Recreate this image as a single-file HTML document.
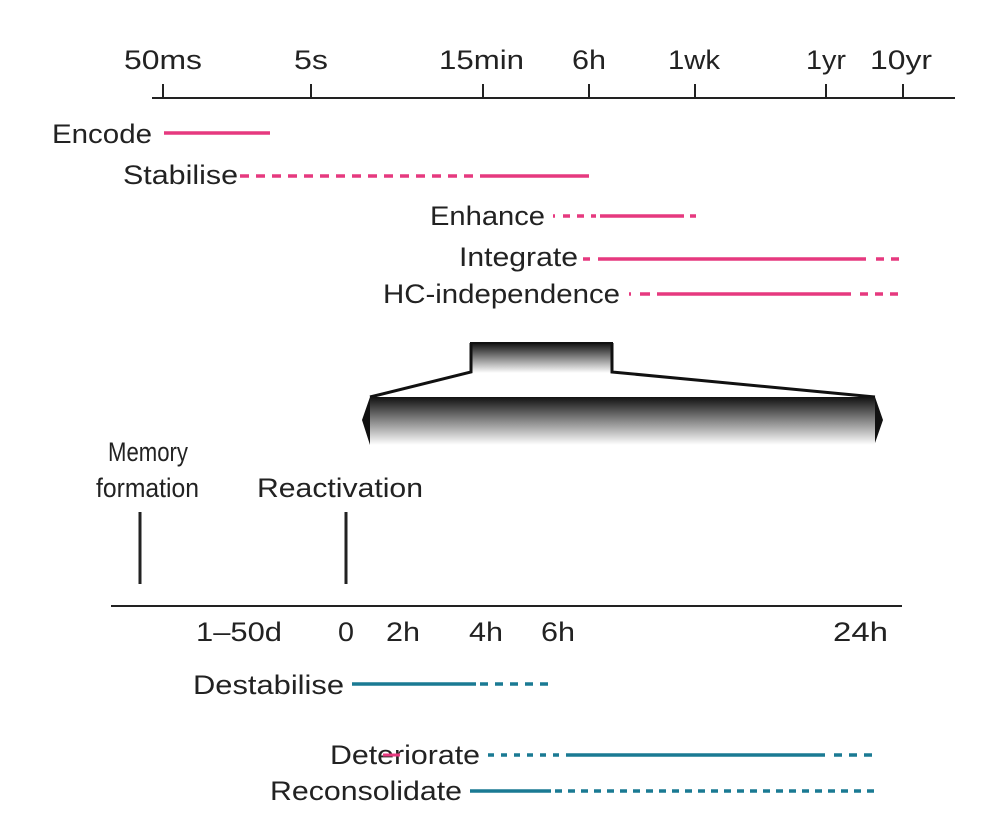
<!DOCTYPE html>
<html><head><meta charset="utf-8"><style>html,body{margin:0;padding:0;background:#fff}svg{display:block}text{font-family:"Liberation Sans",sans-serif;font-size:27px;fill:#222}</style></head>
<body>
<svg width="981" height="831" viewBox="0 0 981 831" xmlns="http://www.w3.org/2000/svg">
<defs>
<linearGradient id="g" x1="0" y1="0" x2="0" y2="1"><stop offset="0" stop-color="#111"/><stop offset="1" stop-color="#fff"/></linearGradient>
</defs>
<g stroke="#222" stroke-width="2">
<line x1="152" y1="98" x2="955" y2="98"/>
<line x1="163" y1="84" x2="163" y2="98"/><line x1="311" y1="84" x2="311" y2="98"/><line x1="483" y1="84" x2="483" y2="98"/><line x1="589" y1="84" x2="589" y2="98"/><line x1="695" y1="84" x2="695" y2="98"/><line x1="826" y1="84" x2="826" y2="98"/><line x1="903" y1="84" x2="903" y2="98"/>
</g>
<text x="124" y="69" textLength="78" lengthAdjust="spacingAndGlyphs">50ms</text>
<text x="294" y="69" textLength="34" lengthAdjust="spacingAndGlyphs">5s</text>
<text x="439" y="69" textLength="85" lengthAdjust="spacingAndGlyphs">15min</text>
<text x="572" y="69" textLength="34" lengthAdjust="spacingAndGlyphs">6h</text>
<text x="668" y="69" textLength="52" lengthAdjust="spacingAndGlyphs">1wk</text>
<text x="806" y="69" textLength="40" lengthAdjust="spacingAndGlyphs">1yr</text>
<text x="870" y="69" textLength="62" lengthAdjust="spacingAndGlyphs">10yr</text>
<text x="52" y="143" textLength="100" lengthAdjust="spacingAndGlyphs">Encode</text>
<text x="123" y="184" textLength="115" lengthAdjust="spacingAndGlyphs">Stabilise</text>
<text x="430" y="225" textLength="115" lengthAdjust="spacingAndGlyphs">Enhance</text>
<text x="459" y="266" textLength="119" lengthAdjust="spacingAndGlyphs">Integrate</text>
<text x="383" y="303" textLength="237" lengthAdjust="spacingAndGlyphs">HC-independence</text>
<g stroke="#e6397f" stroke-width="3.5">
<line x1="164" y1="133" x2="270" y2="133"/>
<line x1="240" y1="176" x2="480" y2="176" stroke-dasharray="9 7"/>
<line x1="480" y1="176" x2="589" y2="176"/>
<line x1="553" y1="216" x2="555" y2="216"/>
<line x1="563" y1="216" x2="596" y2="216" stroke-dasharray="7 7"/>
<line x1="600" y1="216" x2="678" y2="216"/>
<line x1="678" y1="216" x2="701" y2="216" stroke-dasharray="6 6"/>
<line x1="583" y1="259" x2="590" y2="259"/>
<line x1="598" y1="259" x2="866" y2="259"/>
<line x1="876" y1="259" x2="903" y2="259" stroke-dasharray="8 7"/>
<line x1="629" y1="294" x2="631" y2="294"/>
<line x1="640" y1="294" x2="650" y2="294"/>
<line x1="657" y1="294" x2="851" y2="294"/>
<line x1="860" y1="294" x2="903" y2="294" stroke-dasharray="8 7"/>
</g>
<rect x="471" y="343" width="141" height="30" fill="url(#g)"/>
<path d="M471,343 V372 L370,397 M612,343 V372 L875,397" fill="none" stroke="#111" stroke-width="3"/>
<line x1="470" y1="343" x2="613" y2="343" stroke="#111" stroke-width="2"/>
<rect x="370" y="397" width="505" height="48" fill="url(#g)"/>
<path d="M370,397 V445 L362,420 Z M875,397 V443 L883,420 Z" fill="#111"/>
<text x="108" y="461" textLength="80" lengthAdjust="spacingAndGlyphs">Memory</text>
<text x="96" y="497" textLength="103" lengthAdjust="spacingAndGlyphs">formation</text>
<text x="257" y="497" textLength="166" lengthAdjust="spacingAndGlyphs">Reactivation</text>
<g stroke="#222" stroke-width="3"><line x1="140" y1="512" x2="140" y2="584"/><line x1="346" y1="512" x2="346" y2="584"/></g>
<line x1="111" y1="606" x2="902" y2="606" stroke="#222" stroke-width="2"/>
<text x="196" y="641" textLength="86" lengthAdjust="spacingAndGlyphs">1–50d</text>
<text x="338" y="641" textLength="16" lengthAdjust="spacingAndGlyphs">0</text>
<text x="386" y="641" textLength="34" lengthAdjust="spacingAndGlyphs">2h</text>
<text x="469" y="641" textLength="34" lengthAdjust="spacingAndGlyphs">4h</text>
<text x="541" y="641" textLength="34" lengthAdjust="spacingAndGlyphs">6h</text>
<text x="833" y="641" textLength="55" lengthAdjust="spacingAndGlyphs">24h</text>
<text x="193" y="694" textLength="151" lengthAdjust="spacingAndGlyphs">Destabilise</text>
<text x="330" y="764" textLength="150" lengthAdjust="spacingAndGlyphs">Deteriorate</text>
<text x="270" y="800" textLength="192" lengthAdjust="spacingAndGlyphs">Reconsolidate</text>
<line x1="383" y1="755" x2="400" y2="755" stroke="#e6397f" stroke-width="3"/>
<g stroke="#1a7a93" stroke-width="3.5">
<line x1="352" y1="684" x2="476" y2="684"/>
<line x1="480" y1="684" x2="553" y2="684" stroke-dasharray="8 7"/>
<line x1="488" y1="755" x2="562" y2="755" stroke-dasharray="6 7"/>
<line x1="566" y1="755" x2="825" y2="755"/>
<line x1="834" y1="755" x2="878" y2="755" stroke-dasharray="8 7"/>
<line x1="470" y1="791" x2="551" y2="791"/>
<line x1="555" y1="791" x2="878" y2="791" stroke-dasharray="7 6"/>
</g>
</svg>
</body></html>
